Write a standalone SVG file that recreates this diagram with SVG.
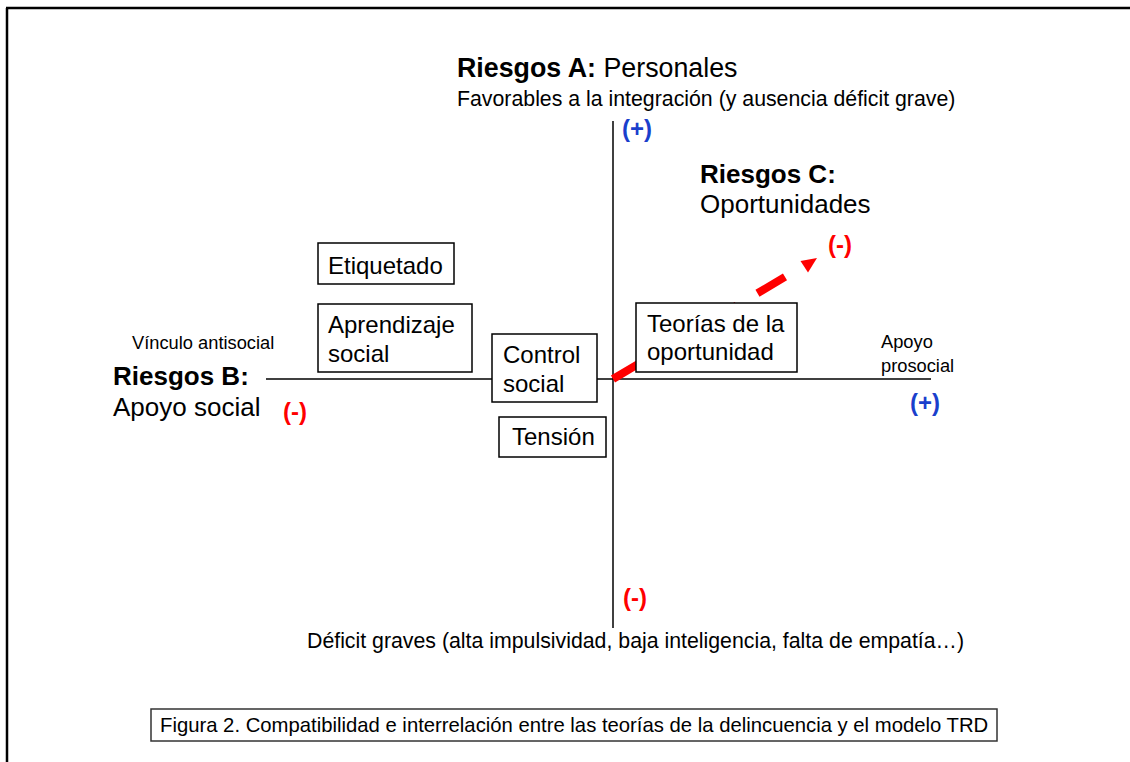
<svg xmlns="http://www.w3.org/2000/svg" width="1130" height="762" viewBox="0 0 1130 762">
<style>
text{font-family:"Liberation Sans",Arial,Helvetica,sans-serif;fill:#000}
.big{font-size:26px}
.b{font-weight:bold}
.mid{font-size:21.3px}
.sm{font-size:18.3px}
.box{fill:#fff;stroke:#000;stroke-width:1.5}
.bt{font-size:24px}
.red{fill:#ff0000;font-weight:bold;font-size:24px}
.blue{fill:#1a3fcc;font-weight:bold;font-size:24px}
.axis{stroke:#000;stroke-width:1.5;fill:none}
</style>
<rect width="1130" height="762" fill="#fff"/>
<g id="frame">
<line x1="6" y1="8" x2="1130" y2="8" stroke="#000" stroke-width="2.5"/>
<line x1="7" y1="8" x2="7" y2="762" stroke="#000" stroke-width="2.5"/>
</g>
<g id="connectors">
<line class="axis" x1="613" y1="121" x2="613" y2="628"/>
<line class="axis" x1="266" y1="379" x2="931" y2="379"/>
<line x1="613" y1="379" x2="785.2" y2="276.8" stroke="#ff0000" stroke-width="8" stroke-dasharray="32 24"/>
<polygon points="817,258 808,272.5 800.5,261" fill="#ff0000"/>
</g>
<g id="labelA">
<text x="457" y="77" font-size="26.8px"><tspan class="b">Riesgos A:</tspan> Personales</text>
<text x="457" y="106" class="mid">Favorables a la integración (y ausencia déficit grave)</text>
<text x="622" y="137" class="blue">(+)</text>
</g>
<g id="labelC">
<text x="700" y="183" class="big b">Riesgos C:</text>
<text x="700" y="213" class="big">Oportunidades</text>
<text x="828" y="253" class="red">(-)</text>
</g>
<g id="labelB">
<text x="132" y="349" class="sm">Vínculo antisocial</text>
<text x="113" y="385" class="big b">Riesgos B:</text>
<text x="113" y="416" class="big">Apoyo social</text>
<text x="283" y="420" class="red">(-)</text>
</g>
<g id="labelProsocial">
<text x="881" y="348" class="sm">Apoyo</text>
<text x="881" y="372" class="sm">prosocial</text>
<text x="910" y="411" class="blue">(+)</text>
</g>
<g id="labelDeficit">
<text x="623" y="606" class="red">(-)</text>
<text x="307" y="648" class="mid">Déficit graves (alta impulsividad, baja inteligencia, falta de empatía…)</text>
</g>
<g id="etiquetado">
<rect class="box" x="318" y="243" width="136" height="41"/>
<text x="328" y="274" class="bt">Etiquetado</text>
</g>
<g id="aprendizaje">
<rect class="box" x="318" y="304" width="154" height="68"/>
<text x="328" y="333" class="bt">Aprendizaje</text>
<text x="328" y="362" class="bt">social</text>
</g>
<g id="control">
<rect class="box" x="492" y="334" width="105" height="68"/>
<text x="503" y="363" class="bt">Control</text>
<text x="503" y="392" class="bt">social</text>
</g>
<g id="tension">
<rect class="box" x="499" y="417" width="107" height="40"/>
<text x="512" y="445" class="bt">Tensión</text>
</g>
<g id="oportunidad">
<rect class="box" x="636" y="303" width="161" height="69"/>
<text x="647" y="332" class="bt">Teorías de la</text>
<text x="647" y="360" class="bt">oportunidad</text>
</g>
<g id="caption">
<rect x="151" y="709" width="846" height="32" fill="#fff" stroke="#333" stroke-width="1.5"/>
<text x="160" y="732" font-size="20.3px">Figura 2. Compatibilidad e interrelación entre las teorías de la delincuencia y el modelo TRD</text>
</g>
</svg>
